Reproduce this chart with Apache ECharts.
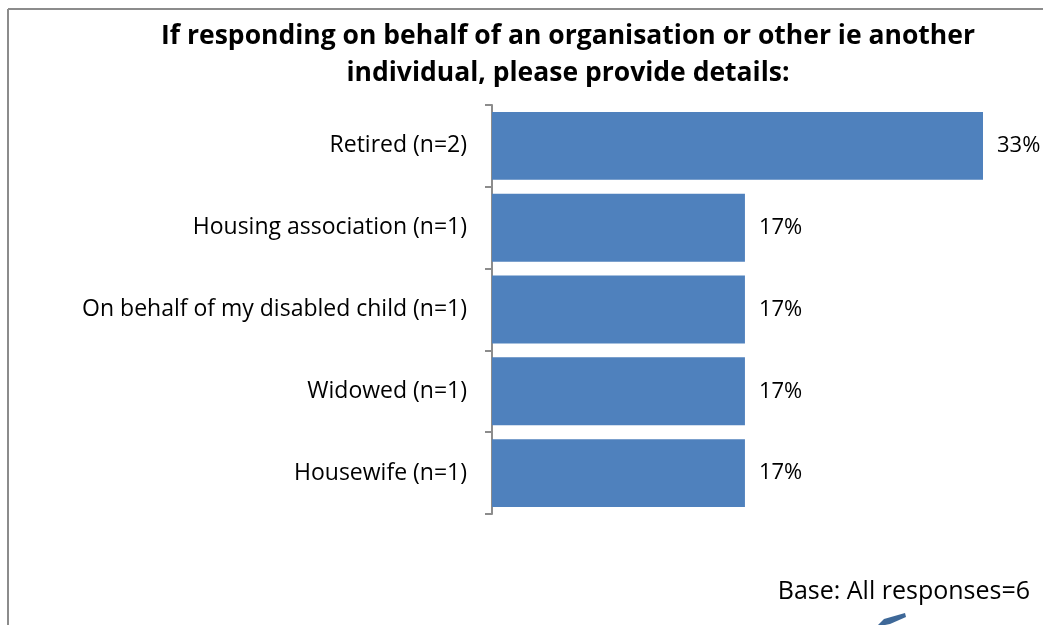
<!DOCTYPE html>
<html>
<head>
<meta charset="utf-8">
<script src="https://cdn.jsdelivr.net/npm/echarts@6/dist/echarts.min.js"></script>
<style>
  html, body { margin: 0; padding: 0; background: #fff; }
  #chart { width: 1043px; height: 625px; }
</style>
</head>
<body>
<div id="chart"></div>
<script>
// Respondent groups, top to bottom
const categories = [
  'Retired (n=2)',
  'Housing association (n=1)',
  'On behalf of my disabled child (n=1)',
  'Widowed (n=1)',
  'Housewife (n=1)'
];
// Share of responses, in percent
const percentages = [33, 17, 17, 17, 17];

const titleLines = [
  'If responding on behalf of an organisation or other ie another',
  'individual, please provide details:'
];
const baseNote = 'Base: All responses=6';

const FONT = '"Open Sans", sans-serif';
const chart = echarts.init(document.getElementById('chart'), null, { renderer: 'canvas' });

chart.setOption({
  backgroundColor: '#ffffff',
  animation: false,
  grid: { left: 492, right: 60, top: 105, bottom: 111, containLabel: false },
  xAxis: {
    type: 'value',
    min: 0,
    max: 33,
    show: false
  },
  yAxis: {
    type: 'category',
    data: categories,
    inverse: true,
    axisLine: { show: true, lineStyle: { color: '#8c8c8c', width: 2 } },
    axisTick: { show: true, length: 7, lineStyle: { color: '#8c8c8c', width: 2 } },
    axisLabel: { color: '#000', fontFamily: FONT, fontSize: 23, margin: 25 },
    splitLine: { show: false }
  },
  series: [{
    type: 'bar',
    data: percentages,
    barCategoryGap: '17%',
    itemStyle: { color: '#4f81bd' },
    label: {
      show: true,
      position: 'right',
      distance: 14,
      color: '#000',
      fontFamily: FONT,
      fontSize: 22,
      formatter: p => p.value + '%'
    }
  }],
  graphic: [
    // frame edges
    { type: 'line', shape: { x1: 8, y1: 9, x2: 1043, y2: 9 }, style: { stroke: '#8c8c8c', lineWidth: 2 } },
    { type: 'line', shape: { x1: 8, y1: 9, x2: 8, y2: 625 }, style: { stroke: '#8c8c8c', lineWidth: 2 } },
    // title
    {
      type: 'text', x: 568, y: 36,
      style: { text: titleLines[0], fontFamily: FONT, fontWeight: 'bold', fontSize: 26.5, fill: '#000', align: 'center', verticalAlign: 'middle' }
    },
    {
      type: 'text', x: 568, y: 73,
      style: { text: titleLines[1], fontFamily: FONT, fontWeight: 'bold', fontSize: 26.5, fill: '#000', align: 'center', verticalAlign: 'middle' }
    },
    // base note
    {
      type: 'text', x: 1030, y: 592,
      style: { text: baseNote, fontFamily: FONT, fontSize: 25, fill: '#000', align: 'right', verticalAlign: 'middle' }
    },
    // stroke fragment at the lower edge
    {
      type: 'polygon',
      shape: { points: [[878, 625], [884, 619], [905, 613], [906, 617], [890, 624], [885, 625]] },
      style: { fill: '#3e6898' }
    }
  ]
});
</script>
</body>
</html>
